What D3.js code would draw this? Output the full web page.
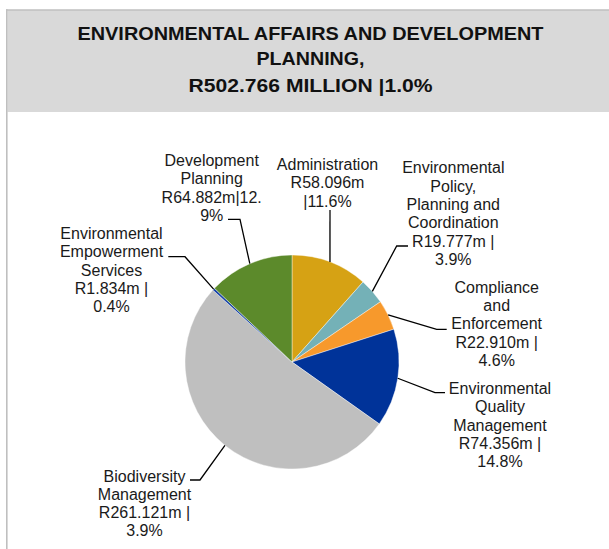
<!DOCTYPE html>
<html>
<head>
<meta charset="utf-8">
<script src="https://cdn.jsdelivr.net/npm/d3@7/dist/d3.min.js"></script>
<style>
  html, body { margin: 0; padding: 0; background: #fff; }
  svg { display: block; }
</style>
</head>
<body>
<svg id="chart" width="609" height="549"></svg>
<script>
// Programme budget split, in R million, clockwise from 12 o'clock
const categories = [
  "Administration",
  "Environmental Policy, Planning and Coordination",
  "Compliance and Enforcement",
  "Environmental Quality Management",
  "Biodiversity Management",
  "Environmental Empowerment Services",
  "Development Planning"
];
const values = [58.096, 19.777, 22.910, 74.356, 261.121, 1.834, 64.882];
const shares = ["11.6%", "3.9%", "4.6%", "14.8%", "3.9%", "0.4%", "12.9%"];
const nameLines = [
  ["Administration"],
  ["Environmental", "Policy,", "Planning and", "Coordination"],
  ["Compliance", "and", "Enforcement"],
  ["Environmental", "Quality", "Management"],
  ["Biodiversity", "Management"],
  ["Environmental", "Empowerment", "Services"],
  ["Development", "Planning"]
];
const titleLines = [
  "ENVIRONMENTAL AFFAIRS AND DEVELOPMENT",
  "PLANNING,",
  "R502.766 MILLION |1.0%"
];

// Slice colours
const colors = ["#D6A214", "#74B1B7", "#F7992C", "#003399", "#BFBFBF", "#1A45A8", "#5C8A2B"];

// How each label breaks its value/share text
const valueStyle = ["stacked", "pipe", "pipe", "pipe", "pipe", "pipe", "split"];

// Label anchors (centre x, first baseline) and leader elbows
const labelLayout = [
  { x: 327.5, y: 170,   elbow: [330, 210],   end: [330, 210] },
  { x: 453.3, y: 173.3, elbow: [396.7, 246], end: [408, 246] },
  { x: 496.7, y: 292.7, elbow: [436.7, 329.3], end: [446.7, 329.3] },
  { x: 500,   y: 394,   elbow: [435, 392.7], end: [445, 392.7] },
  { x: 144.5, y: 481.5, elbow: [200, 480],   end: [190, 480] },
  { x: 111.5, y: 239,   elbow: [185, 256.7], end: [168.3, 256.7] },
  { x: 211.7, y: 166,   elbow: [240, 219.3], end: [228, 219.3] }
];

const W = 609, H = 549;
const cx = 292, cy = 362, R = 107;
const lineH = 18.3;

const svg = d3.select("#chart");

// Frame and title band
svg.append("rect")
  .attr("x", 7.5).attr("y", 10).attr("width", W).attr("height", 102)
  .attr("fill", "#D9D9D9");
svg.append("line")
  .attr("x1", 6).attr("x2", W).attr("y1", 10).attr("y2", 10)
  .attr("stroke", "#BFBFBF").attr("stroke-width", 1.6);
svg.append("line")
  .attr("x1", 6.8).attr("x2", 6.8).attr("y1", 9.2).attr("y2", H)
  .attr("stroke", "#BFBFBF").attr("stroke-width", 1.6);

const titleWidths = [466, 108, 244];
const titleBase = [39.5, 64.8, 91.5];
const title = svg.append("g")
  .attr("font-family", "'Liberation Sans', Arial, sans-serif")
  .attr("font-weight", "bold")
  .attr("font-size", 19)
  .attr("fill", "#111")
  .attr("text-anchor", "middle");
titleLines.forEach((t, i) => {
  title.append("text")
    .attr("x", 310.5)
    .attr("y", titleBase[i])
    .attr("textLength", titleWidths[i])
    .attr("lengthAdjust", "spacingAndGlyphs")
    .text(t);
});

// Pie
const pie = d3.pie().sort(null).value(d => d.value);
const arcs = pie(categories.map((c, i) => ({ name: c, value: values[i], i })));
const arc = d3.arc().innerRadius(0).outerRadius(R);

const g = svg.append("g").attr("transform", `translate(${cx},${cy})`);
g.selectAll("path")
  .data(arcs)
  .join("path")
  .attr("d", arc)
  .attr("fill", d => colors[d.data.i])
  .attr("stroke", "#ffffff")
  .attr("stroke-width", 0.4);

// Label text
const fmt = d3.format(".3f");
function labelText(i) {
  const v = "R" + fmt(values[i]) + "m";
  const s = shares[i];
  const lines = nameLines[i].slice();
  if (valueStyle[i] === "stacked") {
    lines.push(v, "|" + s);
  } else if (valueStyle[i] === "split") {
    const cut = s.indexOf(".") + 1;
    lines.push(v + "|" + s.slice(0, cut), s.slice(cut));
  } else {
    lines.push(v + " |", s);
  }
  return lines;
}

// Leader lines: slice mid-angle on the rim -> elbow -> label
const leaders = svg.append("g")
  .attr("fill", "none")
  .attr("stroke", "#000")
  .attr("stroke-width", 1.3);
arcs.forEach(d => {
  const L = labelLayout[d.data.i];
  const a = (d.startAngle + d.endAngle) / 2;
  const p0 = [cx + R * Math.sin(a), cy - R * Math.cos(a)];
  leaders.append("polyline")
    .attr("points", [p0, L.elbow, L.end].map(p => p.join(",")).join(" "));
});

const labels = svg.append("g")
  .attr("font-family", "'Liberation Sans', Arial, sans-serif")
  .attr("font-size", 16)
  .attr("fill", "#1a1a1a")
  .attr("text-anchor", "middle");
arcs.forEach(d => {
  const i = d.data.i;
  const L = labelLayout[i];
  const t = labels.append("text");
  labelText(i).forEach((line, k) => {
    t.append("tspan")
      .attr("x", L.x)
      .attr("y", L.y + k * lineH)
      .text(line);
  });
});
</script>
</body>
</html>
